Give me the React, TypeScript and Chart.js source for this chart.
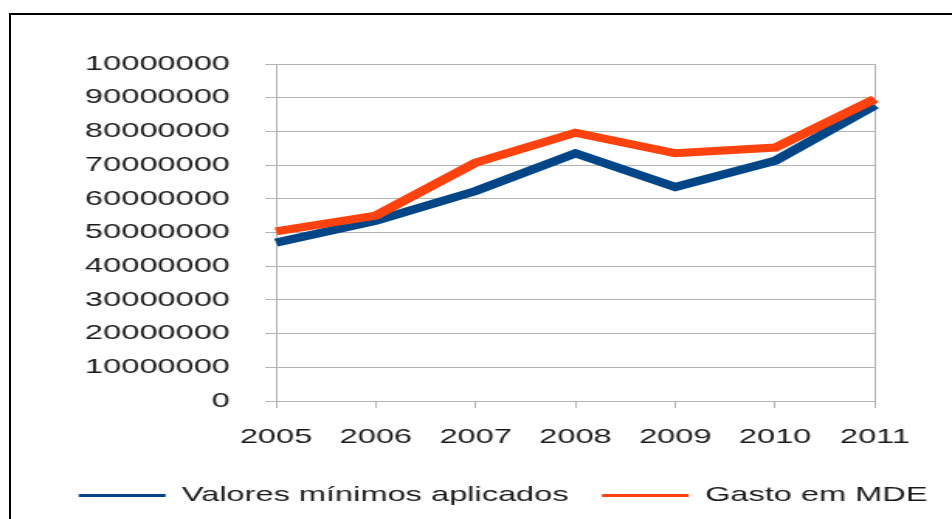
import React, { useEffect, useRef } from "react";
import { Chart, registerables } from "chart.js";

Chart.register(...registerables);

const categories = ["2005", "2006", "2007", "2008", "2009", "2010", "2011"];
const valoresMinimos = [47000000, 53500000, 62300000, 73500000, 63500000, 71300000, 87800000];
const gastoMDE = [50300000, 55000000, 70700000, 79600000, 73500000, 75200000, 89600000];
const yTickLabels = [
  "0",
  "10000000",
  "20000000",
  "30000000",
  "40000000",
  "50000000",
  "60000000",
  "70000000",
  "80000000",
  "90000000",
  "10000000",
];
const seriesNames = ["Valores mínimos aplicados", "Gasto em MDE"];

const W = 614;
const H = 519;
const SX = 952 / W;
const FONT = "'Liberation Sans', Arial, sans-serif";
const GRID = "#b3b3b3";
const TEXT = "#1a1a1a";

export default function App() {
  const ref = useRef<HTMLCanvasElement | null>(null);

  useEffect(() => {
    if (!ref.current) return;
    const chart = new Chart(ref.current, {
      type: "line",
      data: {
        labels: categories,
        datasets: [
          {
            label: seriesNames[0],
            data: valoresMinimos,
            borderColor: "#004586",
            backgroundColor: "#004586",
            borderWidth: 8,
            pointRadius: 0,
            tension: 0,
            order: 1,
          },
          {
            label: seriesNames[1],
            data: gastoMDE,
            borderColor: "#ff420e",
            backgroundColor: "#ff420e",
            borderWidth: 8,
            pointRadius: 0,
            tension: 0,
            order: 0,
          },
        ],
      },
      options: {
        responsive: false,
        animation: false,
        devicePixelRatio: 1,
        layout: { padding: { left: 35, right: 0, top: 64, bottom: 3 } },
        plugins: {
          tooltip: { enabled: false },
          legend: {
            position: "bottom",
            align: "center",
            labels: {
              boxWidth: 56,
              boxHeight: 3,
              padding: 4,
              color: TEXT,
              font: { family: FONT, size: 21 },
              sort: (a: any, b: any) => a.datasetIndex - b.datasetIndex,
              generateLabels: (c: any) => {
                const items = Chart.defaults.plugins.legend.labels.generateLabels(c);
                return items.map((it: any) => ({
                  ...it,
                  text: it.datasetIndex === 0 ? it.text + "   " : it.text,
                  lineWidth: 0,
                  strokeStyle: "transparent",
                }));
              },
            },
          },
        },
        scales: {
          x: {
            offset: false,
            border: { display: true, color: GRID, width: 1 },
            grid: {
              drawOnChartArea: false,
              drawTicks: true,
              tickLength: 7,
              color: GRID,
              tickColor: GRID,
            },
            ticks: {
              color: TEXT,
              font: { family: FONT, size: 21 },
              padding: 17,
              maxRotation: 0,
              autoSkip: false,
            },
            afterFit: (scale: any) => {
              scale.height = 80;
            },
          },
          y: {
            min: 0,
            max: 100000000,
            border: { display: true, color: GRID, width: 1 },
            grid: {
              color: GRID,
              tickColor: GRID,
              tickLength: 7,
              lineWidth: 1,
            },
            ticks: {
              stepSize: 10000000,
              color: TEXT,
              font: { family: FONT, size: 21 },
              padding: 22.7,
              autoSkip: false,
              callback: (_v: any, i: number) => yTickLabels[i],
            },
            afterFit: (scale: any) => {
              scale.width = 143;
            },
          },
          y2: {
            position: "right",
            display: true,
            min: 0,
            max: 1,
            border: { display: true, color: GRID, width: 1 },
            grid: { display: false, drawTicks: false },
            ticks: { display: false },
            afterFit: (scale: any) => {
              scale.width = 49.7;
            },
          },
        },
      },
    });
    return () => chart.destroy();
  }, []);

  return (
    <div
      style={{
        position: "fixed",
        left: 0,
        top: 0,
        width: 952,
        height: 519,
        overflow: "hidden",
        background: "#fff",
      }}
    >
      <div
        style={{
          position: "absolute",
          left: 0,
          top: 0,
          width: W,
          height: H,
          transform: `scaleX(${SX})`,
          transformOrigin: "0 0",
        }}
      >
        <canvas ref={ref} width={W} height={H} style={{ display: "block" }} />
      </div>
      <div
        style={{
          position: "absolute",
          left: 9,
          top: 13,
          width: 1000,
          height: 600,
          borderTop: "2px solid #000",
          borderLeft: "2px solid #000",
          pointerEvents: "none",
        }}
      />
    </div>
  );
}
